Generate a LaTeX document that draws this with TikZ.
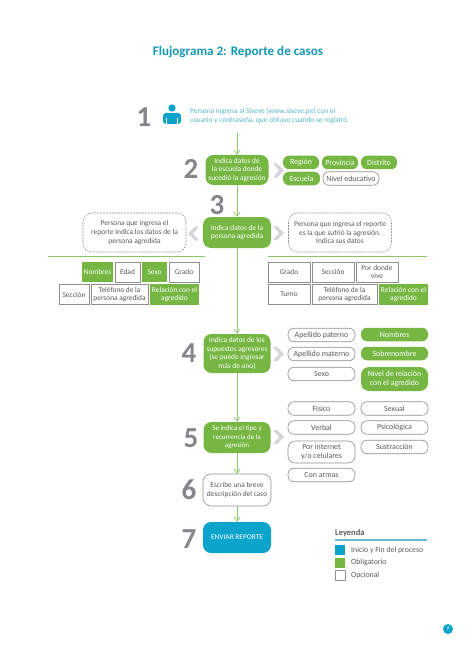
\documentclass[tikz,border=0pt]{standalone}
\usepackage{fontspec}
\setmainfont{Carlito}
\usetikzlibrary{arrows.meta}
\definecolor{flowgreen}{HTML}{76B743}
\definecolor{flowblue}{HTML}{0CA4CB}
\definecolor{titleblue}{HTML}{1398B6}
\definecolor{softblue}{HTML}{55B3C9}
\definecolor{stepgray}{HTML}{858689}
\definecolor{edgegray}{HTML}{8F8F94}
\definecolor{textgray}{HTML}{58595B}
\definecolor{chevgray}{HTML}{D6D5DA}
\definecolor{rulegreen}{HTML}{8CC46A}
\definecolor{ruleblue}{HTML}{66BCCB}
\newcommand{\tiptext}{\fontsize{7.4}{8.6}\selectfont}
\newcommand{\chiptext}{\fontsize{7.9}{9.2}\selectfont}

\begin{document}
\begin{tikzpicture}[
    x=1pt, y=-1pt,
    stage/.style={rectangle, rounded corners=8pt, minimum width=67pt, fill=flowgreen, text=white, font=\tiptext, align=center, inner sep=0pt},
    numeral/.style={font=\fontsize{29}{29}\selectfont\bfseries, text=stepgray, inner sep=0pt},
    chip/.style={rectangle, rounded corners=6pt, minimum height=13.5pt, inner sep=0pt, font=\chiptext, align=center},
    chipon/.style={chip, fill=flowgreen, text=white},
    chipoff/.style={chip, draw=edgegray, line width=0.6pt, fill=white, text=textgray},
    cell/.style={rectangle, minimum height=20pt, inner sep=0pt, font=\tiptext, align=center},
    cellon/.style={cell, fill=flowgreen, text=white},
    celloff/.style={cell, draw=edgegray, line width=0.7pt, fill=white, text=textgray},
    note/.style={rectangle, rounded corners=9pt, draw=edgegray, dash pattern=on 1.8pt off 1.2pt, line width=0.6pt, minimum width=103pt, minimum height=39pt, font=\tiptext, align=center, text=textgray, inner sep=0pt},
    flow/.style={-{Straight Barb[length=4pt, width=6pt]}, color=rulegreen, line width=0.7pt},
    divider/.style={color=rulegreen, line width=0.7pt},
    legendbox/.style={rectangle, minimum width=10pt, minimum height=10pt, inner sep=0pt},
    legendtext/.style={anchor=west, font=\fontsize{7.8}{9}\selectfont, text=textgray, inner sep=0pt}
]
    \useasboundingbox (0,0) rectangle (474,663);

    \node[font=\fontsize{13.1}{16}\selectfont\bfseries, text=titleblue, inner sep=0pt] (title) at (238,52.5) {Flujograma 2: Reporte de casos};

    % paso 1
    \node[numeral] (n1) at (144,117) {1};
    \fill[flowblue] (172,108) circle (3.7);
    \fill[flowblue, rounded corners=3pt] (163,124) -- (163,113) -- (181,113) -- (181,124) -- cycle;
    \draw[white, line width=0.5pt] (166.5,118) -- (166.5,124.5) (177.5,118) -- (177.5,124.5);
    \node[anchor=west, font=\fontsize{7.4}{9}\selectfont, text=softblue, align=left, inner sep=0pt] (ingreso) at (190,115.5) {Persona ingresa al Siseve (www.siseve.pe) con el\\usuario y contraseña, que obtuvo cuando se registró};
    \coordinate (start) at (237,133);

    % pasos centrales
    \node[numeral] (n2) at (191,169) {2};
    \node[stage, minimum height=30pt, minimum width=63pt] (datos) at (237,170) {Indica datos de\\la escuela donde\\sucedió la agresión};
    \node[numeral] (n3) at (217,205) {3};
    \node[stage, minimum height=31pt, minimum width=68pt] (agredida) at (237,232.5) {Indica datos de la\\persona agredida};
    \node[numeral] (n4) at (189,353) {4};
    \node[stage, minimum height=39pt] (agresores) at (237,353.5) {Indica datos de los\\supuestos agresores\\(se puede ingresar\\más de uno)};
    \node[numeral] (n5) at (191,438) {5};
    \node[stage, minimum height=31pt, font=\fontsize{7}{8.6}\selectfont] (tipo) at (237,437.5) {Se indica el tipo y\\recurrencia de la\\agresión};
    \node[numeral] (n6) at (189,490) {6};
    \node[rectangle, rounded corners=8pt, minimum width=68pt, minimum height=32pt, draw=edgegray, line width=0.6pt, text=textgray, font=\tiptext, align=center, inner sep=0pt] (breve) at (237,490) {Escribe una breve\\descripción del caso};
    \node[numeral] (n7) at (189,539) {7};
    \node[rectangle, rounded corners=8pt, minimum width=68pt, minimum height=31pt, fill=flowblue, text=white, font=\tiptext, inner sep=0pt] (enviar) at (237,537.5) {ENVIAR REPORTE};

    \draw[flow] (start) -- (datos);
    \draw[flow] (datos) -- (agredida);
    \draw[flow] (agredida) -- (agresores);
    \draw[flow] (agresores) -- (tipo);
    \draw[flow] (tipo) -- (breve);
    \draw[flow] (breve) -- (enviar);

    \foreach \cy in {170.5,233,354,437}
        \fill[chevgray] (273,\cy-7) -- (277,\cy-7) -- (284,\cy) -- (277,\cy+7) -- (273,\cy+7) -- (279,\cy) -- cycle;
    \fill[chevgray] (199,226.5) -- (195,226.5) -- (188,233.5) -- (195,240.5) -- (199,240.5) -- (193,233.5) -- cycle;

    % paso 2, campos
    \node[chipon, minimum width=36pt] (region) at (301,162.5) {Región};
    \node[chipon, minimum width=36pt] (provincia) at (340,162.5) {Provincia};
    \node[chipon, minimum width=36pt] (distrito) at (379,162.5) {Distrito};
    \node[chipon, minimum width=37pt] (escuela) at (301.5,178.5) {Escuela};
    \node[chipoff, minimum width=56pt] (nivel) at (351,178.5) {Nivel educativo};

    % paso 3, dos casos
    \node[note] (casoa) at (134.5,232.5) {Persona que ingresa el\\reporte indica los datos de la\\persona agredida};
    \node[note] (casob) at (340,232.5) {Persona que ingresa el reporte\\es la que sufrió la agresión.\\Indica sus datos};
    \coordinate (ruleaw) at (48,256);
    \coordinate (ruleae) at (205,256);
    \coordinate (rulebw) at (268,256);
    \coordinate (rulebe) at (427,256);
    \draw[divider] (ruleaw) -- (ruleae);
    \draw[divider] (rulebw) -- (rulebe);

    \node[cellon, minimum width=31pt] (nombresa) at (97.5,272) {Nombres};
    \node[celloff, minimum width=25pt] (edad) at (127.5,272) {Edad};
    \node[cellon, minimum width=25pt] (sexoa) at (154.5,272) {Sexo};
    \node[celloff, minimum width=30pt] (gradoa) at (184,272) {Grado};
    \node[celloff, minimum width=30pt] (secciona) at (74,294.5) {Sección};
    \node[celloff, minimum width=57pt] (telefonoa) at (119.5,294.5) {Teléfono de la\\persona agredida};
    \node[cellon, minimum width=49pt, minimum height=21pt] (relaciona) at (174.5,294.5) {Relación con el\\agredido};

    \node[celloff, minimum width=42pt] (gradob) at (289,272) {Grado};
    \node[celloff, minimum width=42pt] (seccionb) at (333,272) {Sección};
    \node[celloff, minimum width=42pt] (vive) at (377,272) {Por donde\\vive};
    \node[celloff, minimum width=42pt] (turno) at (289,294.5) {Turno};
    \node[celloff, minimum width=65pt] (telefonob) at (344.5,294.5) {Teléfono de la\\persona agredida};
    \node[cellon, minimum width=49pt, minimum height=21pt] (relacionb) at (403.5,294.5) {Relación con el\\agredido};

    % paso 4, campos
    \node[chipoff, minimum width=67pt] (paterno) at (321.5,335) {Apellido paterno};
    \node[chipoff, minimum width=67pt] (materno) at (321.5,354) {Apellido materno};
    \node[chipoff, minimum width=67pt] (sexob) at (321.5,374) {Sexo};
    \node[chipon, minimum width=67pt] (nombresb) at (394.5,334.5) {Nombres};
    \node[chipon, minimum width=67pt] (sobrenombre) at (394.5,353.5) {Sobrenombre};
    \node[chipon, minimum width=67pt, minimum height=24pt, rounded corners=8pt] (relacionc) at (394.5,379) {Nivel de relación\\con el agredido};

    % paso 5, campos
    \node[chipoff, minimum width=67pt] (fisico) at (321.5,408.5) {Físico};
    \node[chipoff, minimum width=67pt] (verbal) at (321.5,427.5) {Verbal};
    \node[chipoff, minimum width=67pt, minimum height=22pt, rounded corners=7pt] (internet) at (321.5,452) {Por internet\\y/o celulares};
    \node[chipoff, minimum width=67pt] (armas) at (321.5,475) {Con armas};
    \node[chipoff, minimum width=67pt] (sexual) at (394.5,408.5) {Sexual};
    \node[chipoff, minimum width=67pt] (psicologica) at (394.5,427.5) {Psicológica};
    \node[chipoff, minimum width=67pt] (sustraccion) at (394.5,447) {Sustracción};

    % leyenda
    \node[anchor=west, font=\fontsize{8.5}{10}\selectfont\bfseries, text=textgray, inner sep=0pt] (leyenda) at (335,533) {Leyenda};
    \coordinate (legendw) at (335,540);
    \coordinate (legende) at (427,540);
    \draw[color=ruleblue, line width=1.2pt] (legendw) -- (legende);
    \node[legendbox, fill=flowblue] (cajaa) at (340,550) {};
    \node[legendbox, fill=flowgreen] (cajab) at (340,562.5) {};
    \node[legendbox, draw=edgegray, line width=0.6pt] (cajac) at (340,575) {};
    \node[legendtext] (inicio) at (351,550) {Inicio y Fin del proceso};
    \node[legendtext] (obligatorio) at (351,562.5) {Obligatorio};
    \node[legendtext] (opcional) at (351,575) {Opcional};

    \node[circle, fill=flowblue, text=white, minimum size=10pt, inner sep=0pt, font=\fontsize{5}{5}\selectfont\bfseries] (pagina) at (448,629) {7};
\end{tikzpicture}
\end{document}
